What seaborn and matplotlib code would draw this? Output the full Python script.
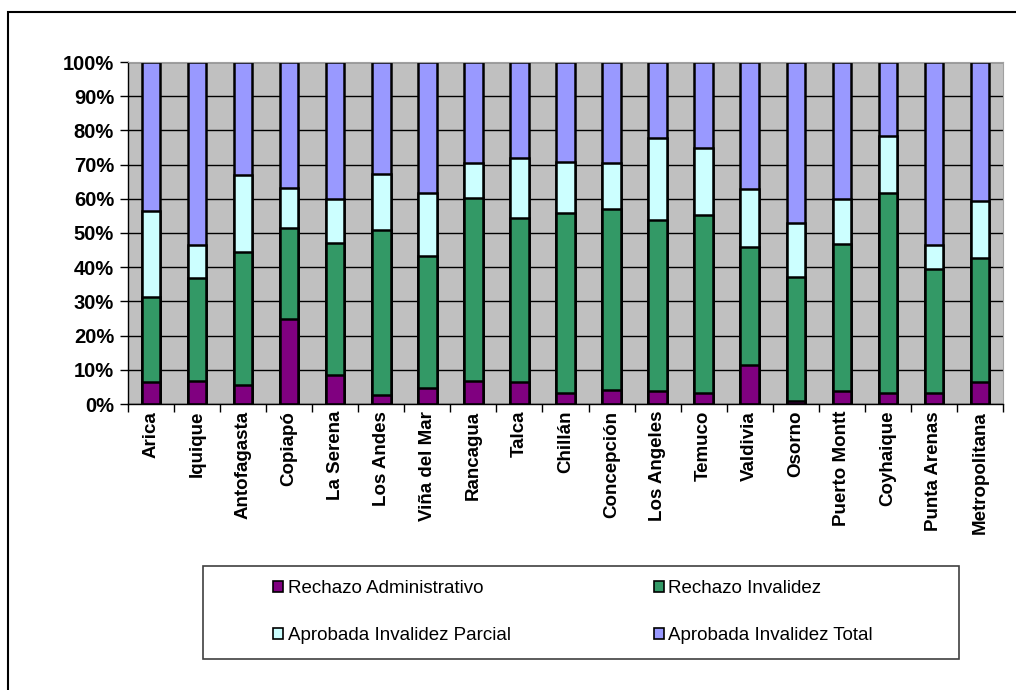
import matplotlib.pyplot as plt
import seaborn as sns
import numpy as np
from matplotlib.patches import Rectangle, Patch

# shares (%) per region
regiones = ['Arica', 'Iquique', 'Antofagasta', 'Copiapó', 'La Serena', 'Los Andes',
            'Viña del Mar', 'Rancagua', 'Talca', 'Chillán', 'Concepción', 'Los Angeles',
            'Temuco', 'Valdivia', 'Osorno', 'Puerto Montt', 'Coyhaique', 'Punta Arenas',
            'Metropolitana']
rechazo_admin = [6.5, 6.8, 5.6, 24.9, 8.5, 2.5, 4.7, 6.8, 6.5, 3.2, 4.0, 3.7, 3.2, 11.4, 0.8, 3.7, 3.2, 3.2, 6.5]
rechazo_inv = [24.8, 30.1, 38.9, 26.6, 38.7, 48.3, 38.7, 53.5, 47.8, 52.6, 52.9, 50.2, 52.2, 34.6, 36.4, 43.1, 58.6, 36.2, 36.2]
aprob_parcial = [25.1, 9.5, 22.6, 11.8, 12.6, 16.5, 18.4, 10.1, 17.6, 15.0, 13.5, 24.0, 19.6, 17.0, 15.6, 13.1, 16.5, 7.0, 16.7]
aprob_total = [43.6, 53.6, 32.9, 36.7, 40.2, 32.7, 38.2, 29.6, 28.1, 29.2, 29.6, 22.1, 25.0, 37.0, 47.2, 40.1, 21.7, 53.6, 40.6]

series = ['Rechazo Administrativo', 'Rechazo Invalidez',
          'Aprobada Invalidez Parcial', 'Aprobada Invalidez Total']
colores = ['#800080', '#339966', '#CCFFFF', '#9999FF']

plt.rcParams['font.family'] = ['Liberation Sans', 'DejaVu Sans']

fig = plt.figure(figsize=(10.16, 6.9), dpi=100)
ax = fig.add_axes([128/1016, 1 - 404/690, (1003-128)/1016, (404-62)/690])
ax.set_facecolor('#C0C0C0')

# stacked bars: draw cumulative heights, tallest first
cum = np.cumsum([rechazo_admin, rechazo_inv, aprob_parcial, aprob_total], axis=0)
cum = cum / cum[-1] * 100
for i in [3, 2, 1, 0]:
    sns.barplot(x=regiones, y=cum[i], color=colores[i], saturation=1, width=0.4,
                edgecolor='black', linewidth=1.8, ax=ax)

ax.set_ylim(0, 100)
ax.set_xlim(-0.5, len(regiones) - 0.5)
ax.set_yticks(np.arange(0, 101, 10))
ax.set_yticklabels([f'{v}%' for v in range(0, 101, 10)], fontsize=14.5, fontweight='bold')
ax.set_xticks(range(len(regiones)))
ax.set_xticklabels(regiones, rotation=90, fontsize=13.5, fontweight='bold')
ax.set_xticks(np.arange(-0.5, len(regiones), 1), minor=True)
ax.tick_params(axis='x', which='major', length=0, pad=5)
ax.tick_params(axis='x', which='minor', length=6, width=1, direction='out')
ax.tick_params(axis='y', length=6, width=1, direction='out', pad=4)
ax.grid(axis='y', color='black', linewidth=1)
ax.set_axisbelow(True)
ax.set_xlabel('')
ax.set_ylabel('')
for s in ['top', 'right']:
    ax.spines[s].set_color('#A0A0A0')
for s in ['left', 'bottom']:
    ax.spines[s].set_color('black')
    ax.spines[s].set_linewidth(1)

# legend box
fig.patches.append(Rectangle((203/1016, 1 - 659/690), (959-203)/1016, (659-566)/690,
                             transform=fig.transFigure, fill=False, edgecolor='#404040', lw=1.2))
handles = [Patch(facecolor=colores[i], edgecolor='black', lw=1.2) for i in [0, 2, 1, 3]]
labels = [series[i] for i in [0, 2, 1, 3]]
fig.legend(handles, labels, ncol=2, loc='upper left', bbox_to_anchor=(273/1016, 1 - 580/690),
           frameon=False, fontsize=13.5, handlelength=0.55, handleheight=0.55, handletextpad=0.25,
           labelspacing=1.6, columnspacing=7.6, borderpad=0, borderaxespad=0)

# outer chart border
fig.patches.append(Rectangle((8/1016, -0.1), 1.2, 1.1 - 12/690, transform=fig.transFigure,
                             fill=False, edgecolor='black', lw=1.5))

fig.savefig('out.png', dpi=100)
